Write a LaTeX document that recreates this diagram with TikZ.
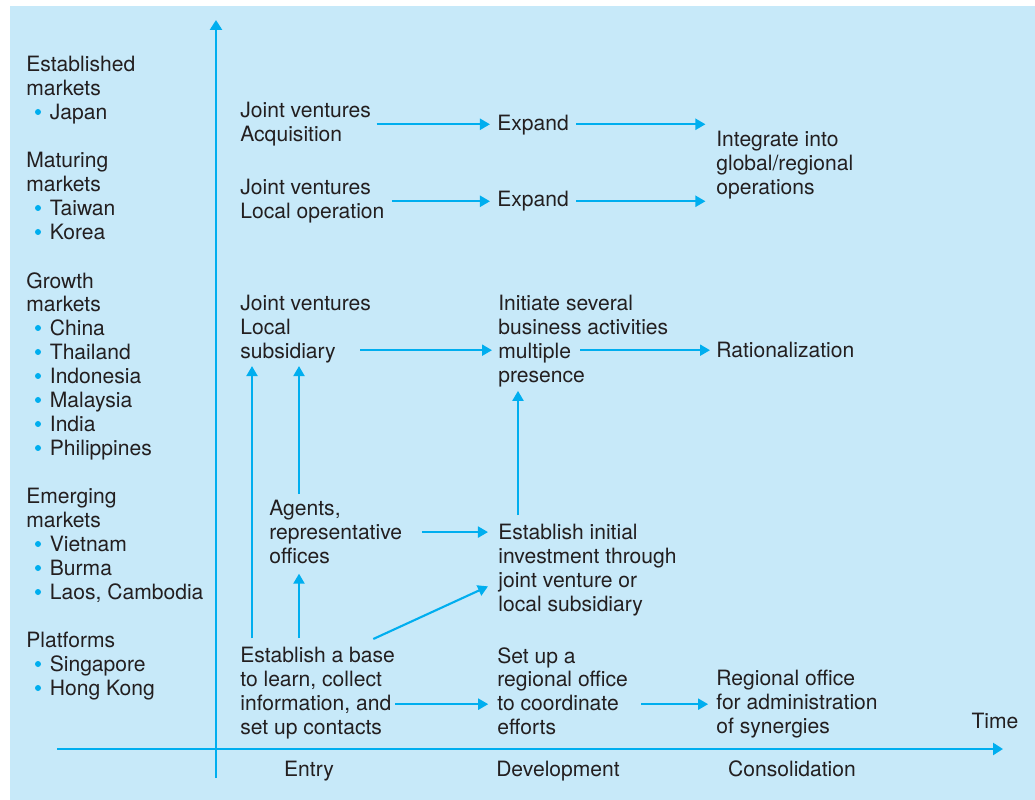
\documentclass[tikz,border=0pt]{standalone}
\usepackage{fontspec}
\setmainfont{TeX Gyre Heros}
\usetikzlibrary{arrows.meta,calc}

\definecolor{panelblue}{HTML}{C7E9F9}
\definecolor{flowblue}{HTML}{00AEEF}
\definecolor{inkgray}{HTML}{231F20}

% indented market entry in the left column (dots are drawn separately)
\newcommand{\mkt}[1]{\hspace*{13.4pt}#1}

\begin{document}
\begin{tikzpicture}[
        x=0.02cm, y=-0.02cm,
        lbl/.style={anchor=north west, inner sep=0pt, align=left, text=inkgray,
            font=\fontsize{12}{13.6}\selectfont},
        tag/.style={anchor=base, inner sep=0pt, text=inkgray,
            font=\fontsize{12}{13.6}\selectfont},
        flow/.style={-{Triangle[length=0.2cm, width=0.22cm]}, draw=flowblue,
            line width=1.2pt, shorten <=4pt, shorten >=4pt},
        axis/.style={-{Triangle[length=0.2cm, width=0.24cm]}, draw=flowblue,
            line width=1.5pt}
    ]
        \useasboundingbox (0,0) rectangle (1035,800);
        \fill[panelblue] (10,6) rectangle (1035,800);

        % axes
        \coordinate (yfoot) at (216,778);
        \coordinate (ytop) at (216,20);
        \coordinate (xstart) at (57,749);
        \coordinate (xend) at (1003,749);
        \draw[axis] (yfoot) -- (ytop);
        \draw[axis] (xstart) -- (xend);

        \node[tag] (time) at (995,728.5) {Time};
        \node[tag] (entry) at (309,776.5) {Entry};
        \node[tag] (devel) at (558,776.5) {Development};
        \node[tag] (consol) at (792,776.5) {Consolidation};

        % market groups
        \node[lbl] (estab) at (26,56) {Established\\markets\\\mkt{Japan}};
        \node[lbl] (maturing) at (26,152) {Maturing\\markets\\\mkt{Taiwan}\\\mkt{Korea}};
        \node[lbl] (growth) at (26,272) {Growth\\markets\\\mkt{China}\\\mkt{Thailand}\\\mkt{Indonesia}\\\mkt{Malaysia}\\\mkt{India}\\\mkt{Philippines}};
        \node[lbl] (emerging) at (26,488) {Emerging\\markets\\\mkt{Vietnam}\\\mkt{Burma}\\\mkt{Laos, Cambodia}};
        \node[lbl] (platforms) at (26,632) {Platforms\\\mkt{Singapore}\\\mkt{Hong Kong}};
        \foreach \yy in {112,208,232,328,352,376,400,424,448,544,568,592,664,688}
            \fill[flowblue] (38,\yy) circle (3);

        % strategy steps
        \node[lbl] (jvacq) at (240,102) {Joint ventures\\Acquisition};
        \node[lbl] (expand1) at (497,115) {Expand};
        \node[lbl] (integrate) at (716,131) {Integrate into\\global/regional\\operations};
        \node[lbl] (jvlocal) at (240,179) {Joint ventures\\Local operation};
        \node[lbl] (expand2) at (497,191) {Expand};
        \node[lbl] (jvsub) at (240,295) {Joint ventures\\Local\\subsidiary};
        \node[lbl] (initiate) at (498,295) {Initiate several\\business activities\\multiple\\presence};
        \node[lbl] (ration) at (716,342) {Rationalization};
        \node[lbl] (agents) at (269,500) {Agents,\\representative\\offices};
        \node[lbl] (initial) at (498,524) {Establish initial\\investment through\\joint venture or\\local subsidiary};
        \node[lbl] (base) at (240,647) {Establish a base\\to learn, collect\\information, and\\set up contacts};
        \node[lbl] (setup) at (497,647) {Set up a\\regional office\\to coordinate\\efforts};
        \node[lbl] (regional) at (716,670) {Regional office\\for administration\\of synergies};

        \coordinate (lane) at ($(base.east)+(0,11)$);

        % horizontal flows
        \draw[flow, shorten <=3pt] (jvacq.east) -- (jvacq.east -| expand1.west);
        \draw[flow, shorten >=6pt] (expand1.east |- jvacq.east) -- (integrate.west |- jvacq.east);
        \draw[flow] (jvlocal.east) -- (jvlocal.east -| expand2.west);
        \draw[flow, shorten >=6pt] (expand2.east |- jvlocal.east) -- (integrate.west |- jvlocal.east);
        \draw[flow, shorten <=0pt, shorten >=3.4pt] ($(jvsub.east |- ration.west)+(-11,0)$) -- (initiate.west |- ration.west);
        \draw[flow, shorten <=0pt, shorten >=3.4pt] ($(initiate.west |- ration.west)+(82,0)$) -- (ration.west);
        \draw[flow, shorten <=11pt, shorten >=5.7pt] (agents.east) -- (agents.east -| initial.west);
        \draw[flow, shorten <=0pt, shorten >=5pt] (lane) -- (lane -| setup.west);
        \draw[flow, shorten <=7.4pt, shorten >=4.5pt] (setup.east |- lane) -- (regional.west |- lane);

        % upward flows
        \draw[flow, shorten <=5pt, shorten >=2pt] ($(initial.north west)+(20,0)$) -- ($(initiate.south west)+(20,0)$);
        \draw[flow, shorten <=5pt, shorten >=1.5pt] ($(base.north west)+(12,0)$) -- ($(jvsub.south west)+(12,0)$);
        \draw[flow, shorten <=5pt, shorten >=5.4pt] ($(base.north west)+(59,0)$) -- ($(agents.south west)+(30,0)$);
        \draw[flow, shorten <=3.4pt, shorten >=1.5pt] ($(agents.north west)+(30,0)$) -- ($(jvsub.south west)+(59,0)$);
        \draw[flow, shorten <=0pt, shorten >=0pt] ($(base.north east)+(-22,-8)$) -- ($(initial.south west)+(-10,-30)$);
    \end{tikzpicture}
\end{document}
